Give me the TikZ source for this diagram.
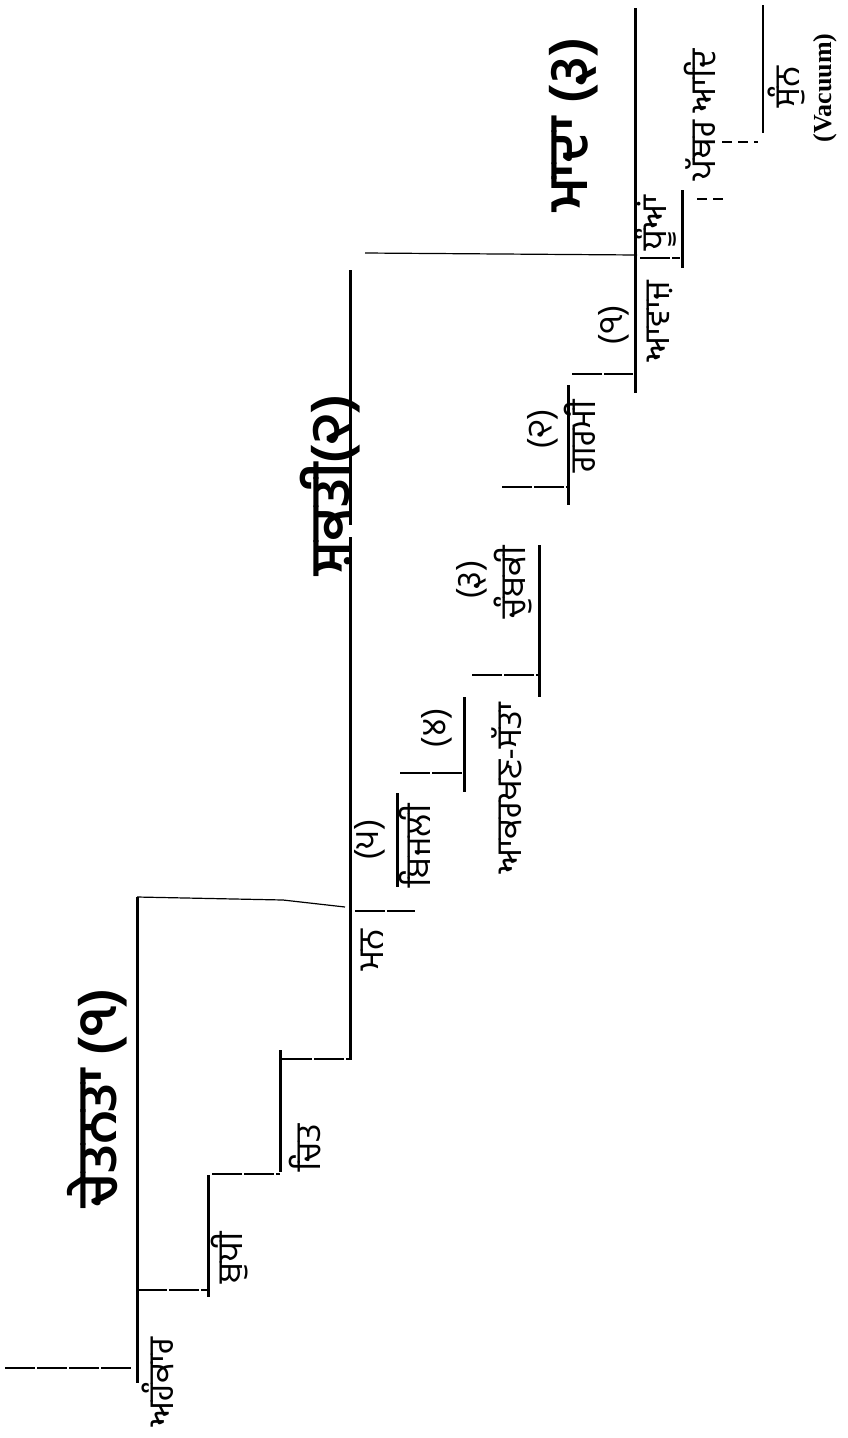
\documentclass[tikz,border=0pt]{standalone}
\usepackage{fontspec}
\setmainfont{Liberation Serif}
\newfontfamily\gurmukhi[Script=Gurmukhi]{Hind Jalandhar}

\begin{document}
\begin{tikzpicture}[x=1pt, y=-1pt,
  tread/.style={line width=3pt},
  riser/.style={line width=1.8pt, dash pattern=on 30pt off 2pt},
  link/.style={line width=1.2pt},
  lbl/.style={rotate=90, inner sep=0pt, font=\gurmukhi\fontsize{35}{37}\selectfont},
  num/.style={rotate=90, inner sep=0pt, font=\gurmukhi\fontsize{34}{36}\selectfont},
  head/.style={rotate=90, inner sep=0pt, font=\gurmukhi\bfseries\fontsize{54}{58}\selectfont}
]
\useasboundingbox (0,0) rectangle (847,1438);

% chetanta steps
\draw[riser] (5,1368) -- (132,1368);
\draw[tread] (137,897) -- (137,1383);
\draw[riser] (137,1290) -- (208,1290);
\draw[tread] (208,1175) -- (208,1297);
\draw[riser] (212,1174) -- (280,1174);
\draw[tread] (280,1050) -- (280,1172);
\draw[riser] (282,1059) -- (350,1059);
\draw[tread] (350,270) -- (350,525) (350,537) -- (350,1060);
\draw[link] (137,897) -- (283,900) -- (345,907);
\draw[riser] (355,911) -- (415,911);

% shakti steps
\draw[tread] (397,793) -- (397,887);
\draw[riser] (400,773) -- (462,773);
\draw[tread] (464,697) -- (464,792);
\draw[riser] (472,675) -- (538,675);
\draw[tread] (539,545) -- (539,697);
\draw[riser] (502,487) -- (568,487);
\draw[tread] (568,385) -- (568,505);
\draw[riser] (572,374) -- (633,374);
\draw[tread] (635,8) -- (635,393);
\draw[link] (365,253) -- (637,255);

% madda steps
\draw[riser] (640,258) -- (680,258);
\draw[tread] (682,190) -- (682,268);
\draw[riser, dash pattern=on 10pt off 6pt] (697,199) -- (725,199);
\draw[riser, dash pattern=on 10pt off 6pt] (722,142) -- (758,142);
\draw[link] (763,5) -- (763,133);

% headings
\node[head] (chetanta) at (97,1098) {ਚੇਤਨਤਾ (੧)};
\node[head] (shakti) at (330,485) {ਸ਼ਕਤੀ(੨)};
\node[head] (mada) at (574,125) {ਮਾਦਾ (੩)};

% labels
\node[lbl] (ahankar) at (158,1382) {ਅਹੰਕਾਰ};
\node[lbl] (budhi) at (230,1258) {ਬੁਧੀ};
\node[lbl] (chit) at (305,1148) {ਚਿਤ};
\node[lbl] (man) at (372,950) {ਮਨ};
\node[num] (n5) at (370,840) {(੫)};
\node[lbl] (bijli) at (415,846) {ਬਿਜਲੀ};
\node[num] (n4) at (437,728) {(੪)};
\node[lbl] (akarkhan) at (507,788) {ਆਕਰਖਣ-ਸੱਤਾ};
\node[num] (n3) at (472,580) {(੩)};
\node[lbl] (chumbki) at (513,582) {ਚੁੰਬਕੀ};
\node[num] (n2) at (543,429) {(੨)};
\node[lbl] (garmi) at (580,436) {ਗਰਮੀ};
\node[num] (n1) at (614,325) {(੧)};
\node[lbl] (awaz) at (660,321) {ਆਵਾਜ਼};
\node[lbl] (dhuan) at (656,223) {ਧੂੰਆਂ};
\node[lbl] (pathar) at (700,115) {ਪੱਥਰ ਆਦਿ};
\node[lbl] (sunn) at (786,87) {ਸੁੰਨ};
\node[rotate=90, inner sep=0pt, font=\bfseries\fontsize{26}{28}\selectfont] (vacuum) at (825,88) {(Vacuum)};
\end{tikzpicture}
\end{document}
